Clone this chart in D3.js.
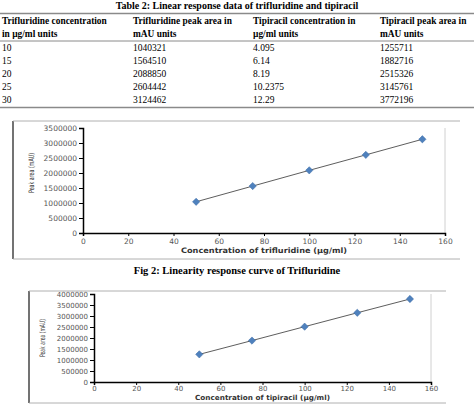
<!DOCTYPE html>
<html>
<head>
<meta charset="utf-8">
<style>
  body { margin: 0; background: #fff; }
  svg { display: block; }
</style>
</head>
<body>
<script src="https://d3js.org/d3.v7.min.js"></script>
<script>
// table data
var headers = [
  ["Trifluridine concentration", "in \u00b5g/ml units"],
  ["Trifluridine peak area in", "mAU units"],
  ["Tipiracil concentration in", "\u00b5g/ml units"],
  ["Tipiracil peak area in", "mAU units"]
];
var triConc = ["10", "15", "20", "25", "30"];
var triArea = ["1040321", "1564510", "2088850", "2604442", "3124462"];
var tipConc = ["4.095", "6.14", "8.19", "10.2375", "12.29"];
var tipArea = ["1255711", "1882716", "2515326", "3145761", "3772196"];

// chart data (x axis of the plots runs 50..150)
var plotConc = [50, 75, 100, 125, 150];
var triPeak = [1040321, 1564510, 2088850, 2604442, 3124462];
var tipPeak = [1255711, 1882716, 2515326, 3145761, 3772196];
var xTicks = [0, 20, 40, 60, 80, 100, 120, 140, 160];

var W = 474, H = 408;
var svg = d3.select("body").append("svg").attr("width", W).attr("height", H);

var serif = "'Liberation Serif', 'Times New Roman', serif";
var sans = "'DejaVu Sans', Verdana, sans-serif";

// ---- table ----
svg.append("text").attr("x", 237).attr("y", 9)
  .attr("text-anchor", "middle").attr("font-family", serif)
  .attr("font-weight", "bold").attr("font-size", 10)
  .text("Table 2: Linear response data of trifluridine and tipiracil");

function hline(y, w) {
  svg.append("line").attr("x1", 0).attr("x2", W).attr("y1", y).attr("y2", y)
    .attr("stroke", "#8a8a8a").attr("stroke-width", w);
}
hline(13.5, 1.5);
hline(41, 1);
hline(107.5, 1.5);

var colX = [2, 133, 253, 380];
headers.forEach(function(h, i) {
  h.forEach(function(line, j) {
    svg.append("text").attr("x", colX[i]).attr("y", 24 + j * 13)
      .attr("font-family", serif).attr("font-weight", "bold").attr("font-size", 9.4)
      .text(line);
  });
});
var cols = [triConc, triArea, tipConc, tipArea];
cols.forEach(function(c, i) {
  c.forEach(function(v, j) {
    svg.append("text").attr("x", colX[i]).attr("y", 51 + j * 13)
      .attr("font-family", serif).attr("font-size", 9.5)
      .text(v);
  });
});

// ---- charts ----
function chart(o) {
  var g = svg.append("g");
  // frame
  g.append("line").attr("x1", o.frame[0]).attr("x2", o.frame[0])
    .attr("y1", o.frame[1]).attr("y2", o.frame[3]).attr("stroke", "#444").attr("stroke-width", 1.5);
  g.append("line").attr("x1", o.frame[0]).attr("x2", o.frame[2])
    .attr("y1", o.frame[1]).attr("y2", o.frame[1]).attr("stroke", "#b0b0b0");
  g.append("line").attr("x1", o.frame[0]).attr("x2", o.frame[2])
    .attr("y1", o.frame[3]).attr("y2", o.frame[3]).attr("stroke", "#b0b0b0");

  var x = d3.scaleLinear().domain([0, 160]).range([o.x0, o.x1]);
  var y = d3.scaleLinear().domain([0, o.yMax]).range([o.y0, o.y1]);

  // right plot-area edge
  g.append("line").attr("x1", x(160)).attr("x2", x(160))
    .attr("y1", y(o.yMax)).attr("y2", y(0)).attr("stroke", "#d0d0d0");

  var xa = g.append("g").attr("transform", "translate(0," + y(0) + ")")
    .call(d3.axisBottom(x).tickValues(xTicks).tickSize(3).tickPadding(o.xPad));
  var ya = g.append("g").attr("transform", "translate(" + x(0) + ",0)")
    .call(d3.axisLeft(y).ticks(o.yMax / 500000).tickSize(4).tickPadding(2)
      .tickFormat(d3.format("d")));
  [xa, ya].forEach(function(a) {
    a.select(".domain").attr("stroke", "#000").attr("stroke-width", 1.5);
    a.selectAll(".tick line").attr("stroke", "#000");
    a.selectAll("text").attr("font-family", sans).attr("font-size", o.fs).attr("fill", "#555");
  });

  // trend line
  g.append("path").datum(o.vals)
    .attr("d", d3.line().x(function(d, i) { return x(plotConc[i]); }).y(function(d) { return y(d); }))
    .attr("fill", "none").attr("stroke", "#333").attr("stroke-width", 0.8);
  // markers
  g.selectAll(".pt").data(o.vals).enter().append("path")
    .attr("transform", function(d, i) { return "translate(" + x(plotConc[i]) + "," + y(d) + ")"; })
    .attr("d", d3.symbol().type(d3.symbolDiamond2).size(34))
    .attr("fill", "#4f81bd").attr("stroke", "#3a6aa5").attr("stroke-width", 0.5);

  g.append("text").attr("x", (o.x0 + o.x1) / 2).attr("y", o.xtY)
    .attr("text-anchor", "middle").attr("font-family", sans).attr("font-size", o.fs)
    .attr("font-weight", "bold").attr("fill", "#333")
    .attr("textLength", o.xtLen).attr("lengthAdjust", "spacingAndGlyphs")
    .text(o.xTitle);
  g.append("text").attr("transform", "translate(" + o.ytX + "," + o.ytY + ") rotate(-90)")
    .attr("text-anchor", "middle").attr("font-family", sans).attr("font-size", 7.5)
    .attr("fill", "#333")
    .attr("textLength", o.ytLen).attr("lengthAdjust", "spacingAndGlyphs")
    .text("Peak area (mAU)");
}

chart({
  frame: [13, 121, 460, 259],
  x0: 83, x1: 445, y0: 233, y1: 128, yMax: 3500000, fs: 7.5, xPad: 3,
  vals: triPeak, xTitle: "Concentration of trifluridine (\u00b5g/ml)",
  xtY: 253, xtLen: 166, ytX: 34, ytY: 173, ytLen: 40
});

svg.append("text").attr("x", 237).attr("y", 274)
  .attr("text-anchor", "middle").attr("font-family", serif)
  .attr("font-weight", "bold").attr("font-size", 10.5)
  .text("Fig 2: Linearity response curve of Trifluridine");

chart({
  frame: [29, 291, 446, 403],
  x0: 94, x1: 431, y0: 382, y1: 294, yMax: 4000000, fs: 7, xPad: 1,
  vals: tipPeak, xTitle: "Concentration of  tipiracil (\u00b5g/ml)",
  xtY: 400, xtLen: 135, ytX: 45, ytY: 338, ytLen: 38
});
</script>
</body>
</html>
